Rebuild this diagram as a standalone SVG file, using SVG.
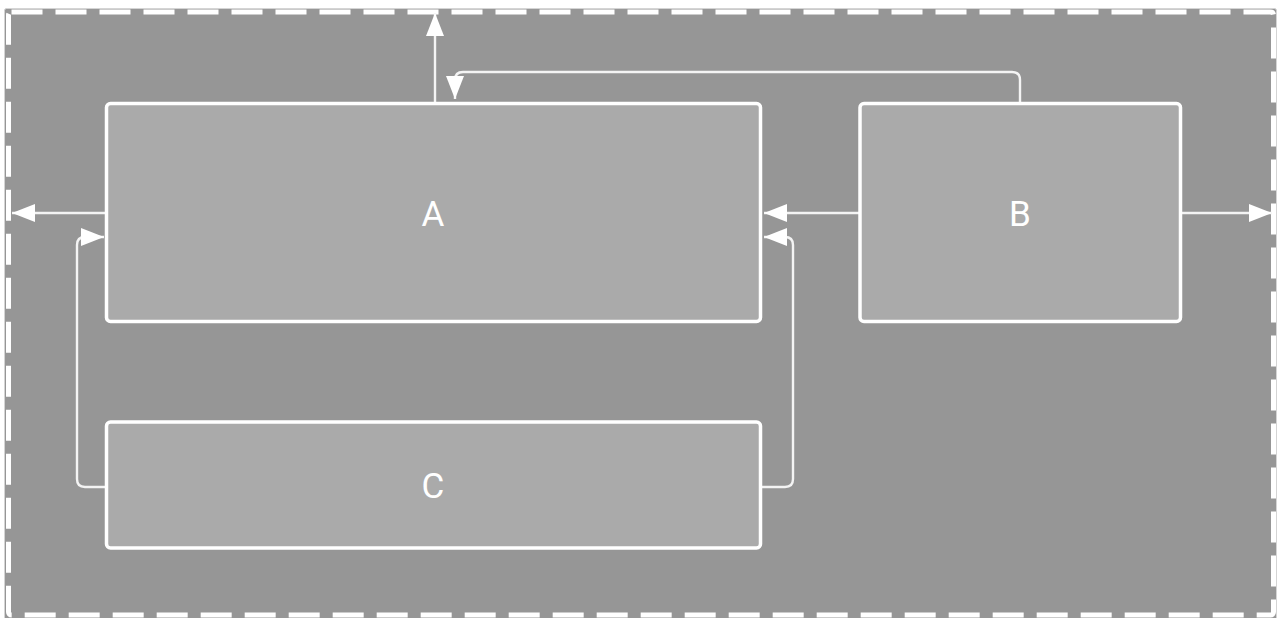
<svg xmlns="http://www.w3.org/2000/svg" width="1280" height="618" viewBox="0 0 1280 618">
<style>
.frame{fill:#969696;stroke:#d4d4d4;stroke-width:1}
.dash{fill:none;stroke:#ffffff;stroke-width:5;stroke-dasharray:31 13}
.node rect{fill:#aaaaaa;stroke:#ffffff;stroke-width:3.5}
.node text{fill:#ffffff;font-family:Roboto,"Liberation Sans",sans-serif;font-size:35px;text-anchor:middle;dominant-baseline:central}
.conn path{fill:none;stroke:#f4f4f4;stroke-width:2.4;marker-end:url(#arr)}
</style>
<defs>
<marker id="arr" markerUnits="userSpaceOnUse" markerWidth="26" markerHeight="20" refX="23" refY="9" orient="auto">
<path d="M0,0 L23,9 L0,18 z" fill="#ffffff"/>
</marker>
</defs>
<rect width="1280" height="618" fill="#ffffff"/>
<rect class="frame" x="4.5" y="8.5" width="1272" height="614" rx="2"/>
<rect class="dash" x="8.5" y="12" width="1265" height="603" rx="3"/>
<g class="conn" id="connectors">
<path d="M435,103 L435,13"/>
<path d="M1020,103 L1020,80 Q1020,72 1012,72 L463,72 Q455,72 455,80 L455,99"/>
<path d="M106,213 L12,213"/>
<path d="M106,487 L85,487 Q77,487 77,479 L77,245 Q77,237 85,237 L104,237"/>
<path d="M860,213 L764,213"/>
<path d="M760,487 L785,487 Q793,487 793,479 L793,245 Q793,237 785,237 L764,237"/>
<path d="M1181,213 L1272,213"/>
</g>
<g class="node" id="A">
<rect x="106.5" y="103.5" width="654" height="218" rx="4"/>
<text x="433" y="214">A</text>
</g>
<g class="node" id="B">
<rect x="860" y="103.5" width="320.5" height="218" rx="4"/>
<text x="1020" y="214">B</text>
</g>
<g class="node" id="C">
<rect x="106.5" y="422" width="654" height="126" rx="4"/>
<text x="433" y="486">C</text>
</g>
</svg>
